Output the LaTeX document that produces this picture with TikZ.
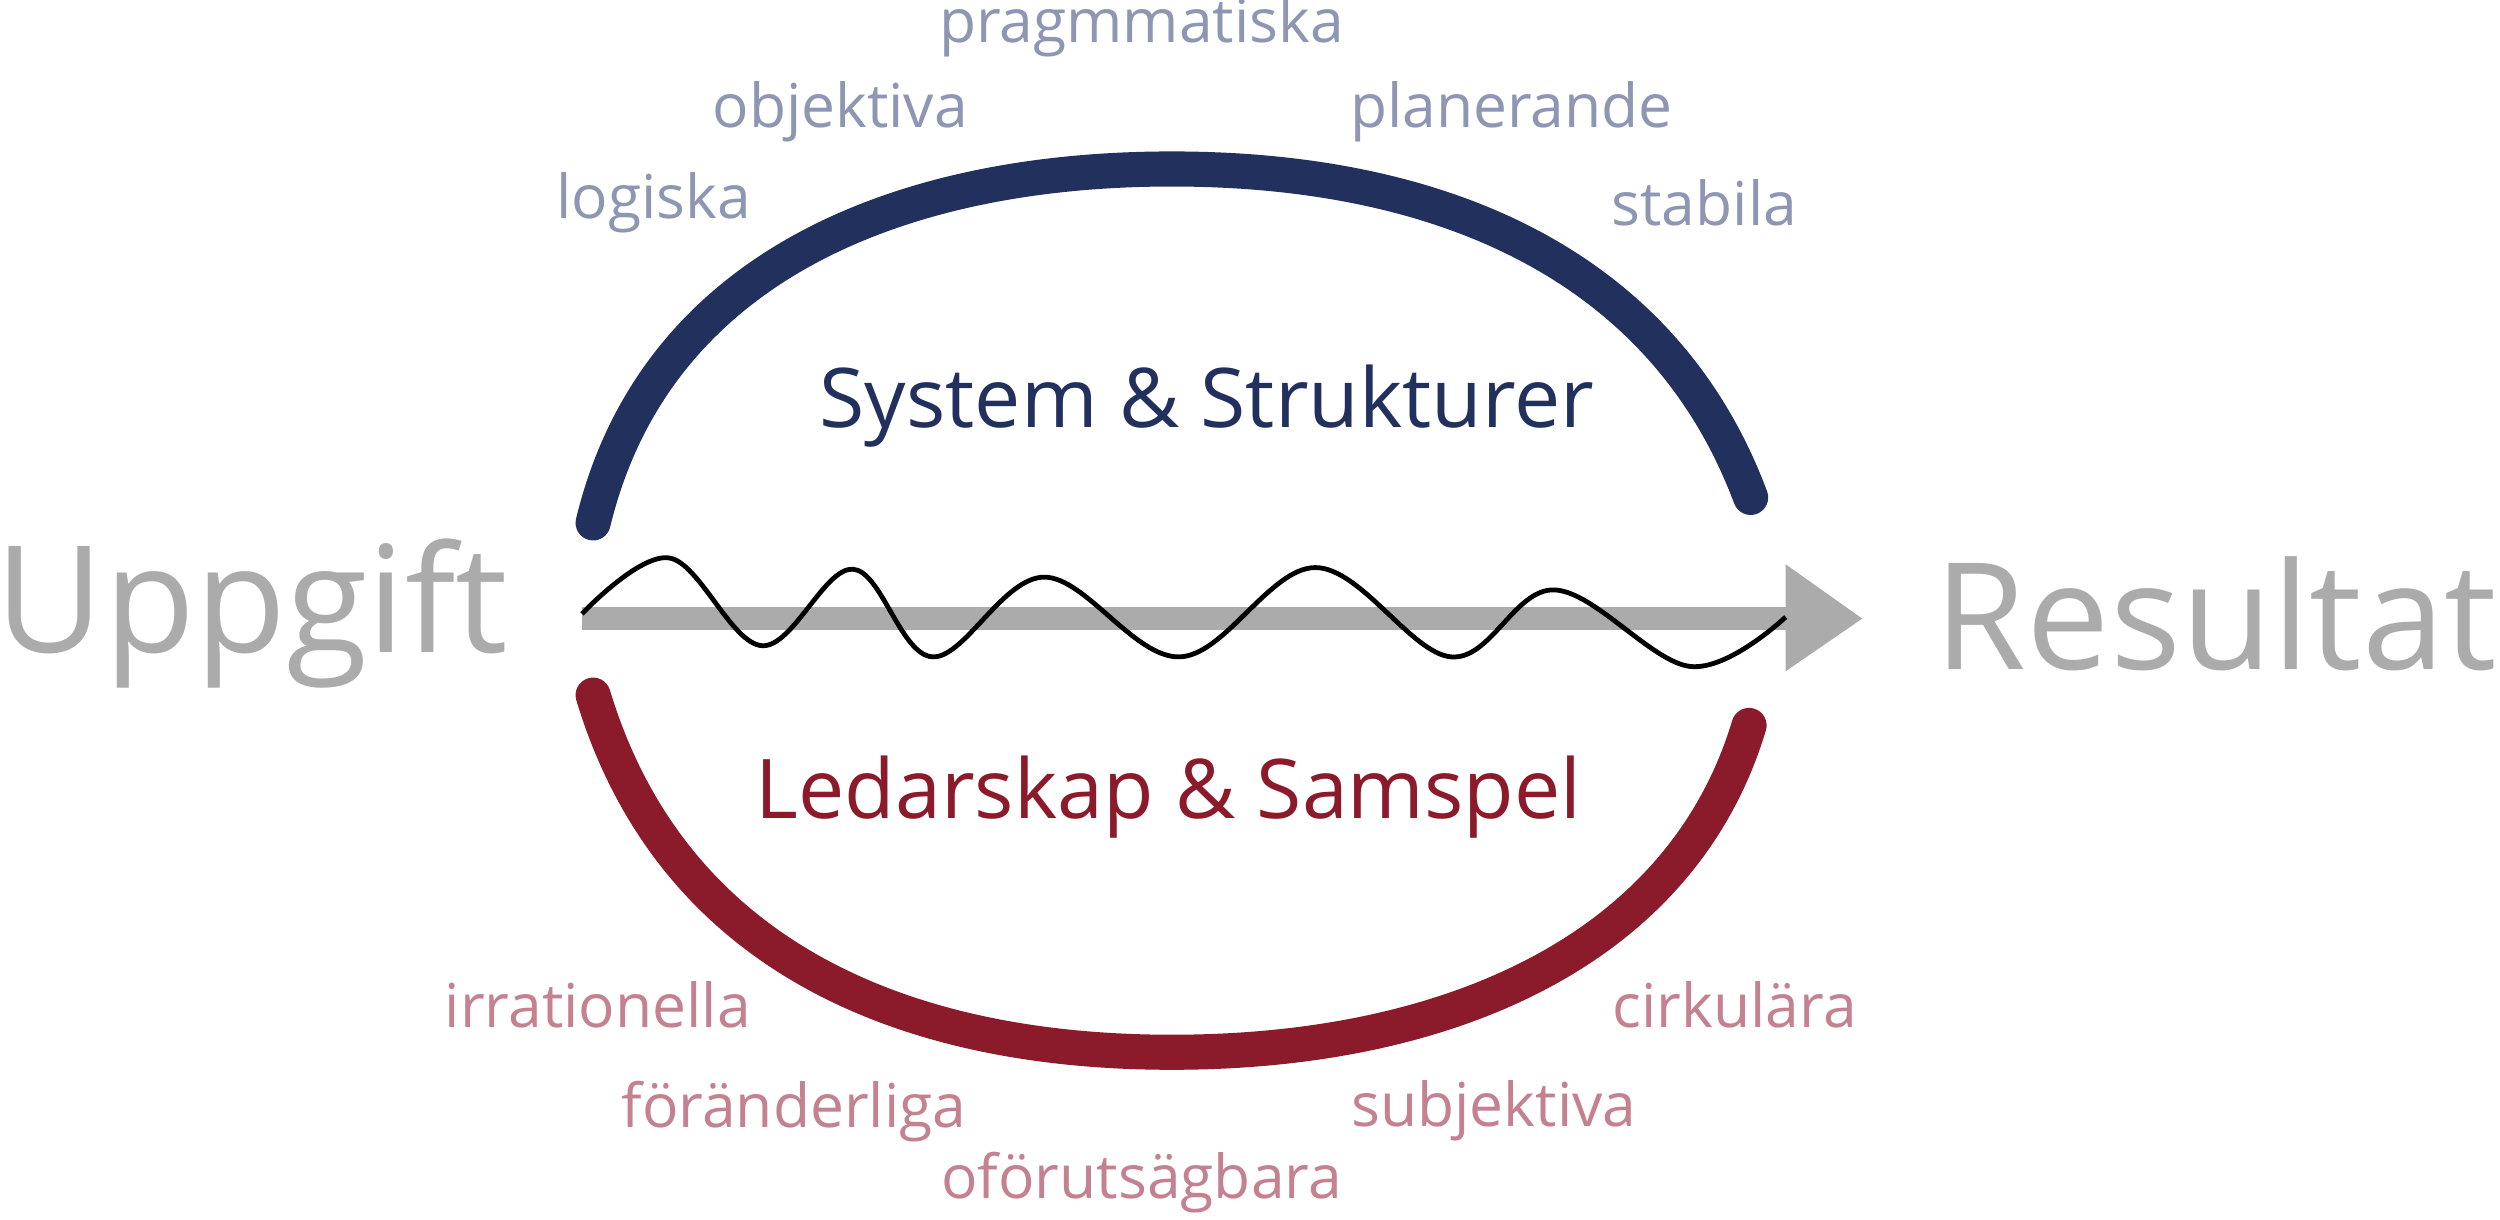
\documentclass[tikz,border=0pt]{standalone}
\usepackage{fontspec}
\setmainfont{Open Sans}
\begin{document}
\begin{tikzpicture}[x=0.01cm,y=-0.01cm]
\definecolor{navy}{HTML}{22305E}
\definecolor{wine}{HTML}{8B1A2B}
\definecolor{topw}{HTML}{8E96B3}
\definecolor{botw}{HTML}{C4818F}
\definecolor{gr}{HTML}{ABABAB}
\tikzset{big/.style={text=gr,font=\fontsize{26.5}{30}\selectfont},
 tw/.style={text=topw,font=\fontsize{10.8}{12}\selectfont},
 bw/.style={text=botw,font=\fontsize{10.8}{12}\selectfont},
 arcline/.style={line width=0.22cm,line cap=round}}
\useasboundingbox (0,0) rectangle (1568,765);
\node[big] (upp) at (158,385) {Uppgift};
\node[big] (res) at (1390,385) {Resultat};
\coordinate (as) at (365,388);
\coordinate (ae) at (1122,388);
\draw[gr,line width=0.14cm] (as) -- (ae);
\fill[gr] (1120,354) -- (1168,388) -- (1120,421) -- cycle;
\draw[navy,arcline] (372,328) .. controls (410,170) and (560,106) .. (735,106) .. controls (910,106) and (1045,170) .. (1098,312);
\draw[wine,arcline] (372,436) .. controls (420,595) and (560,660) .. (735,660) .. controls (910,660) and (1055,595) .. (1097,455);
\draw[black,line width=0.03cm] plot[smooth,tension=0.6] coordinates {(365,385) (420,350) (478,405) (535,357) (585,412) (655,362) (740,412) (825,356) (910,412) (975,370) (1060,418) (1120,387)};
\node[text=navy,font=\fontsize{14.7}{16}\selectfont] (sys) at (757,255) {System \& Strukturer};
\node[text=wine,font=\fontsize{14.7}{16}\selectfont] (led) at (733,500) {Ledarskap \& Samspel};
\node[tw] (t1) at (410,127) {logiska};
\node[tw] (t2) at (527,70) {objektiva};
\node[tw] (t3) at (716,17) {pragmmatiska};
\node[tw] (t4) at (948,70) {planerande};
\node[tw] (t5) at (1069,127) {stabila};
\node[bw] (b1) at (375,630) {irrationella};
\node[bw] (b2) at (498,697) {föränderliga};
\node[bw] (b3) at (716,742) {oförutsägbara};
\node[bw] (b4) at (937,697) {subjektiva};
\node[bw] (b5) at (1088,630) {cirkulära};
\end{tikzpicture}
\end{document}
